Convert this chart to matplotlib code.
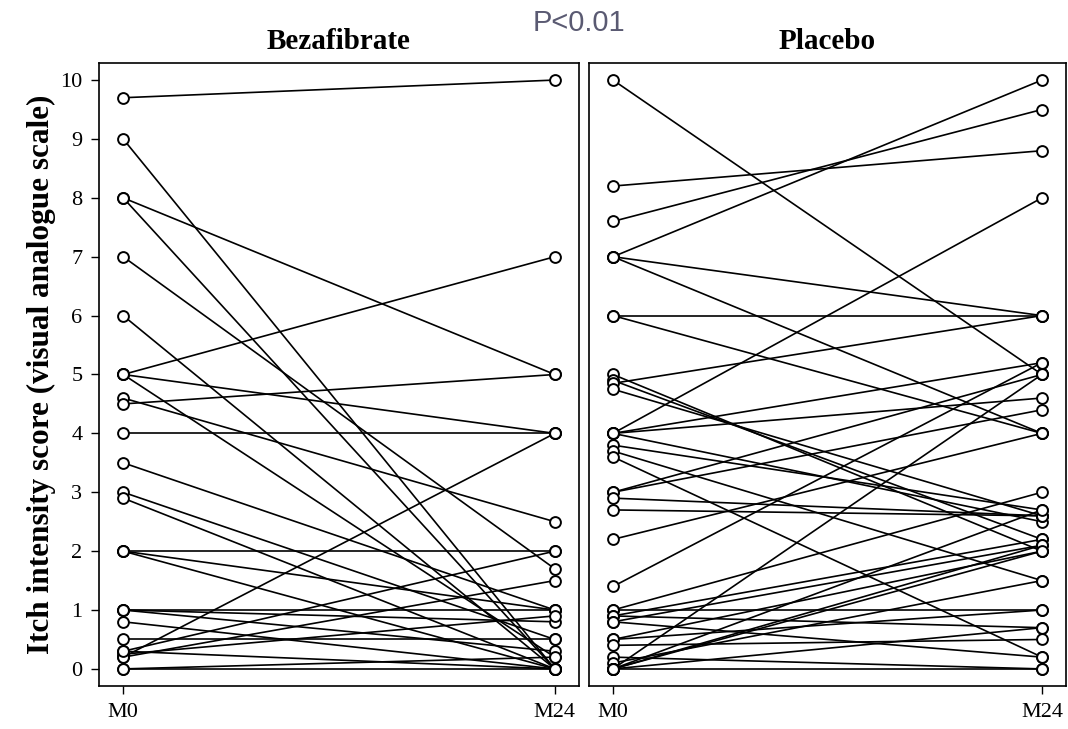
import matplotlib
matplotlib.use("Agg")
import matplotlib.pyplot as plt

# Paired itch scores (visual analogue scale) at month 0 and month 24
timepoints = ["M0", "M24"]

beza_m0 = [9.7, 9.0, 8.0, 8.0, 7.0, 6.0, 5.0, 5.0, 5.0, 4.6, 4.5, 4.0,
           3.5, 3.0, 2.9, 2.0, 2.0, 2.0, 1.0, 1.0, 1.0, 0.8, 0.5, 0.3,
           0.25, 0.2, 0.2, 0.0, 0.0, 0.3]
beza_m24 = [10.0, 0.0, 5.0, 0.0, 1.7, 0.0, 7.0, 4.0, 0.2, 2.5, 5.0, 4.0,
            1.0, 0.5, 0.0, 2.0, 1.0, 0.0, 1.0, 0.8, 0.3, 0.0, 0.5, 2.0,
            0.9, 4.0, 1.5, 0.0, 0.2, 0.0]

plac_m0 = [10.0, 8.2, 7.6, 7.0, 7.0, 7.0, 6.0, 6.0, 5.0, 4.9, 4.85, 4.75,
           4.0, 4.0, 4.0, 4.0, 3.8, 3.7, 3.6, 3.0, 3.0, 2.9, 2.7, 2.2,
           1.4, 1.0, 1.0, 0.9, 0.9, 0.8, 0.8, 0.5, 0.5, 0.4, 0.2, 0.1,
           0.0, 0.0, 0.0, 0.0, 0.0, 0.0]
plac_m24 = [5.0, 8.8, 9.5, 10.0, 6.0, 4.0, 6.0, 4.0, 2.0, 2.2, 6.0, 2.6,
            8.0, 4.6, 2.5, 5.2, 2.7, 1.5, 0.2, 5.0, 4.4, 2.6, 2.6, 4.0,
            5.2, 1.0, 3.0, 2.2, 0.7, 2.1, 0.2, 1.0, 2.0, 0.5, 0.0, 1.5,
            5.0, 2.7, 2.1, 0.0, 2.0, 0.7]

panels = [("Bezafibrate", beza_m0, beza_m24), ("Placebo", plac_m0, plac_m24)]

serif = "Liberation Serif"
fig = plt.figure(figsize=(10.68, 7.29), dpi=100)
positions = [[0.0927, 0.059, 0.4494, 0.8546], [0.5515, 0.059, 0.4466, 0.8546]]

for i, ((title, m0, m24), pos) in enumerate(zip(panels, positions)):
    ax = fig.add_axes(pos)
    for a, b in zip(m0, m24):
        ax.plot([0, 1], [a, b], color="black", lw=1.2, zorder=2)
    xs = [0] * len(m0) + [1] * len(m24)
    ys = list(m0) + list(m24)
    ax.plot(xs, ys, ls="none", marker="o", ms=7.8, mfc="white", mec="black",
            mew=1.4, zorder=3)
    ax.set_xlim(-0.056, 1.056)
    ax.set_ylim(-0.29, 10.29)
    ax.set_xticks([0, 1])
    ax.set_xticklabels(timepoints, fontfamily=serif, fontsize=16)
    ax.tick_params(axis="x", length=6, width=1, pad=6, color="black")
    if i == 0:
        ax.set_yticks(range(0, 11))
        ax.set_yticklabels([str(v) for v in range(0, 11)], fontfamily=serif,
                           fontsize=16)
        ax.tick_params(axis="y", length=6, width=1, pad=6)
        ax.set_ylabel("Itch intensity score (visual analogue scale)",
                      fontfamily=serif, fontweight="bold", fontsize=22.5,
                      labelpad=3)
    else:
        ax.set_yticks([])
    for s in ax.spines.values():
        s.set_linewidth(1.2)
        s.set_color("black")
    ax.set_title(title, fontfamily=serif, fontweight="bold", fontsize=21,
                 pad=10)

fig.text(0.5417, 0.969, "P<0.01", ha="center", va="center",
         fontfamily="Liberation Sans", fontsize=21, color="#5a5a72")

fig.savefig("out.png", dpi=100, facecolor="white")
